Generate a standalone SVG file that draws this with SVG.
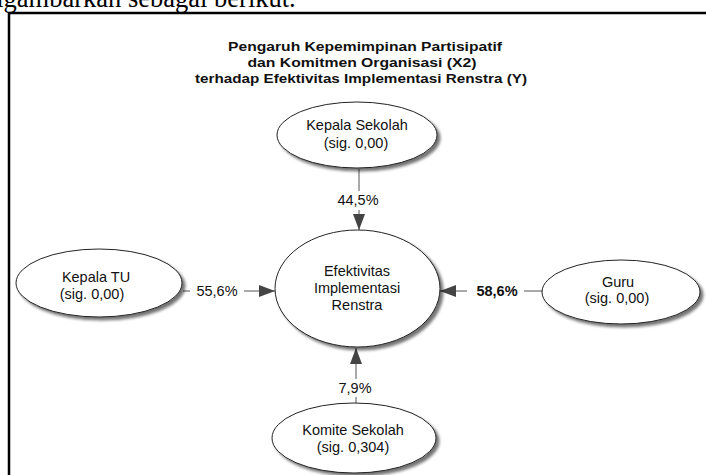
<svg xmlns="http://www.w3.org/2000/svg" width="706" height="475" viewBox="0 0 706 475">
<defs>
<filter id="sh" x="-20%" y="-20%" width="150%" height="150%">
<feGaussianBlur in="SourceAlpha" stdDeviation="1.5"/>
<feOffset dx="3" dy="3" result="b"/>
<feComponentTransfer><feFuncA type="linear" slope="0.55"/></feComponentTransfer>
<feMerge><feMergeNode/><feMergeNode in="SourceGraphic"/></feMerge>
</filter>
<marker id="ah" viewBox="0 0 16 12" refX="16" refY="6" markerWidth="16" markerHeight="12" markerUnits="userSpaceOnUse" orient="auto">
<path d="M0,0 L16,6 L0,12 Z" fill="#444"/>
</marker>
<style>
.n{fill:#fff;stroke:#222;stroke-width:1;filter:url(#sh)}
.t{font-family:"Liberation Sans",Arial,sans-serif;font-size:14.5px;fill:#111;text-anchor:middle}
.ttl{font-family:"Liberation Sans",Arial,sans-serif;font-size:12.5px;font-weight:bold;fill:#111;text-anchor:middle}
.c{stroke:#555;stroke-width:1;fill:none}
.lb{font-family:"Liberation Sans",Arial,sans-serif;font-size:14.5px;fill:#111;text-anchor:middle}
</style>
</defs>
<rect width="706" height="475" fill="#fff"/>
<text x="-17" y="7" font-family="'Liberation Serif',serif" font-size="26.5" fill="#000">digambarkan sebagai berikut.</text>
<path d="M9,480 V13 H706" stroke="#000" stroke-width="2.5" fill="none"/>
<g id="title">
<text class="ttl" x="365" y="51" textLength="274" lengthAdjust="spacingAndGlyphs">Pengaruh Kepemimpinan Partisipatif</text>
<text class="ttl" x="362" y="67" textLength="229" lengthAdjust="spacingAndGlyphs">dan Komitmen Organisasi (X2)</text>
<text class="ttl" x="361" y="83" textLength="332" lengthAdjust="spacingAndGlyphs">terhadap Efektivitas Implementasi Renstra (Y)</text>
</g>
<g id="connectors">
<path class="c" d="M359,169 V191"/>
<path class="c" d="M359,210 V230" marker-end="url(#ah)"/>
<text class="lb" x="358" y="205">44,5%</text>
<path class="c" d="M183,291 H190"/>
<path class="c" d="M244,291 H275" marker-end="url(#ah)"/>
<text class="lb" x="217" y="296">55,6%</text>
<path class="c" d="M543,291 H524"/>
<path class="c" d="M467,291 H440" marker-end="url(#ah)"/>
<text class="lb" x="497" y="296" font-weight="bold">58,6%</text>
<path class="c" d="M356,403 V397"/>
<path class="c" d="M356,379 V348" marker-end="url(#ah)"/>
<text class="lb" x="355" y="393">7,9%</text>
</g>
<g id="kepala-sekolah">
<ellipse class="n" cx="357" cy="135" rx="80" ry="33"/>
<text class="t" x="357" y="130">Kepala Sekolah</text>
<text class="t" x="356" y="148">(sig. 0,00)</text>
</g>
<g id="efektivitas">
<ellipse class="n" cx="357.5" cy="288.5" rx="82.5" ry="58.5"/>
<text class="t" x="357" y="276">Efektivitas</text>
<text class="t" x="357" y="293">Implementasi</text>
<text class="t" x="357" y="310">Renstra</text>
</g>
<g id="kepala-tu">
<ellipse class="n" cx="99" cy="283" rx="83" ry="34"/>
<text class="t" x="96" y="282">Kepala TU</text>
<text class="t" x="92" y="299">(sig. 0,00)</text>
</g>
<g id="guru">
<ellipse class="n" cx="621" cy="292" rx="79" ry="32"/>
<text class="t" x="618" y="287">Guru</text>
<text class="t" x="617" y="303">(sig. 0,00)</text>
</g>
<g id="komite-sekolah">
<ellipse class="n" cx="354" cy="438" rx="82" ry="35"/>
<text class="t" x="353" y="435">Komite Sekolah</text>
<text class="t" x="353" y="452">(sig. 0,304)</text>
</g>
</svg>
